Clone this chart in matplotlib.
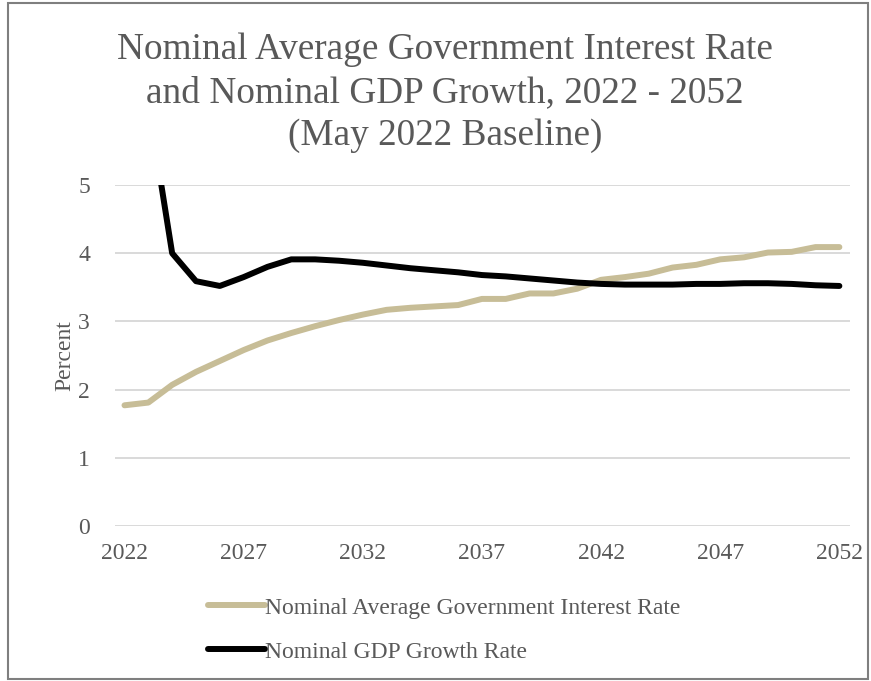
import matplotlib.pyplot as plt
from matplotlib.patches import Rectangle

years = list(range(2022, 2053))
interest_rate = [1.77, 1.81, 2.07, 2.26, 2.42, 2.58, 2.72, 2.83, 2.93, 3.02,
                 3.10, 3.17, 3.20, 3.22, 3.24, 3.33, 3.33, 3.41, 3.41, 3.48,
                 3.61, 3.65, 3.70, 3.79, 3.83, 3.91, 3.94, 4.01, 4.02, 4.09,
                 4.09]
gdp_growth = [9.0, 6.2, 4.00, 3.59, 3.52, 3.65, 3.80, 3.91, 3.91, 3.89,
              3.86, 3.82, 3.78, 3.75, 3.72, 3.68, 3.66, 3.63, 3.60, 3.57,
              3.55, 3.54, 3.54, 3.54, 3.55, 3.55, 3.56, 3.56, 3.55, 3.53,
              3.52]
xticks = [2022, 2027, 2032, 2037, 2042, 2047, 2052]
yticks = [0, 1, 2, 3, 4, 5]

title = ('Nominal Average Government Interest Rate\n'
         'and Nominal GDP Growth, 2022 - 2052\n(May 2022 Baseline)')
labels = ['Nominal Average Government Interest Rate', 'Nominal GDP Growth Rate']

plt.rcParams['font.family'] = ['Liberation Serif', 'DejaVu Serif']
grey = '#595959'

fig = plt.figure(figsize=(8.71, 6.81), dpi=100)
ax = fig.add_axes([0.132, 0.2276, 0.844, 0.5007])

ax.plot(years, interest_rate, color='#C7BD97', lw=4.3,
        solid_capstyle='round', solid_joinstyle='round', label=labels[0])
ax.plot(years, gdp_growth, color='black', lw=4.3,
        solid_capstyle='round', solid_joinstyle='round', label=labels[1])

ax.set_xlim(2021.6, 2052.45)
ax.set_ylim(0, 5)
ax.set_xticks(xticks)
ax.set_yticks(yticks)
ax.grid(axis='y', color='#D9D9D9', lw=1.4)
ax.set_axisbelow(True)
for s in ax.spines.values():
    s.set_visible(False)
ax.tick_params(length=0, labelsize=17, colors=grey)
ax.tick_params(axis='x', pad=12)
ax.tick_params(axis='y', pad=18)
ax.set_ylabel('Percent', fontsize=17, color=grey, labelpad=2)

fig.text(0.511, 0.952, title, ha='center', va='top', fontsize=26.8,
         color=grey, linespacing=1.32)

leg = fig.legend(loc='upper left', bbox_to_anchor=(0.228, 0.137),
                 frameon=False, fontsize=17, handlelength=2.4,
                 handletextpad=0.0, labelspacing=0.95,
                 borderaxespad=0)
for t in leg.get_texts():
    t.set_color(grey)

fig.patches.append(Rectangle((8 / 871, 2 / 681), 860 / 871, 676 / 681,
                             transform=fig.transFigure, fill=False,
                             edgecolor='#7F7F7F', lw=1.5))

fig.savefig('out.png', dpi=100)
